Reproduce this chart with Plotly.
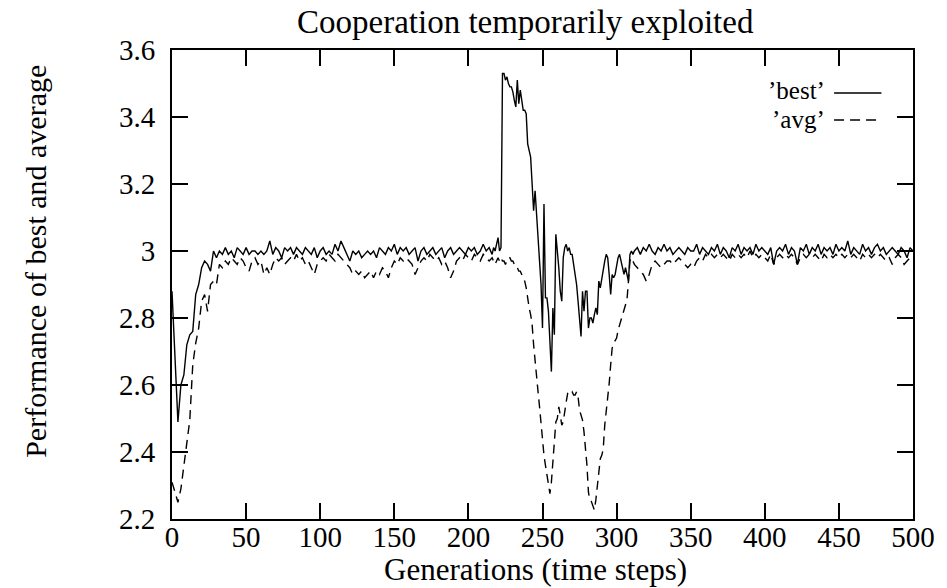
import plotly.graph_objects as go

# ---------------- data ----------------
gens_early = list(range(0, 216, 2))      # 0..214 step 2
gens_mid = list(range(216, 312))         # 216..311 step 1
gens_late = list(range(312, 501, 2))     # 312..500 step 2

best_early = [
    2.88, 2.70, 2.49, 2.60, 2.63, 2.72, 2.75, 2.76, 2.87, 2.90,
    2.95, 2.97, 2.96, 2.94, 3.00, 2.98, 3.00, 2.99, 3.01, 2.99,
    3.00, 2.98, 3.01, 3.00, 2.99, 3.01, 2.99, 3.00, 3.00, 2.99,
    3.00, 2.99, 3.00, 3.03, 2.99, 3.01, 3.00, 2.98, 3.01, 3.00,
    3.01, 2.99, 3.01, 3.00, 2.99, 3.01, 3.00, 2.99, 3.01, 2.98,
    3.00, 3.01, 2.99, 3.00, 2.99, 3.02, 3.00, 3.03, 3.01, 2.99,
    2.97, 3.00, 2.99, 3.00, 2.98, 2.99, 3.00, 2.99, 3.00, 2.98,
    3.01, 3.00, 2.99, 3.01, 3.00, 3.02, 2.99, 3.01, 3.00, 3.01,
    2.99, 3.00, 3.01, 2.97, 3.00, 3.01, 2.99, 3.00, 3.01, 2.99,
    3.00, 3.01, 2.98, 3.00, 3.01, 2.99, 3.00, 3.01, 3.00, 2.99,
    3.01, 3.00, 3.01, 2.99, 3.00, 3.02, 3.00, 3.01,
]
best_mid = [
    2.99, 3.01, 3.00, 3.02, 3.04, 3.00, 3.01, 3.53, 3.53, 3.51,
    3.52, 3.50, 3.49, 3.49, 3.475, 3.45, 3.43, 3.51, 3.44, 3.48,
    3.45, 3.42, 3.42, 3.41, 3.32, 3.30, 3.28, 3.20, 3.12, 3.18,
    3.11, 3.03, 2.98, 2.90, 2.77, 3.14, 2.86, 2.86, 2.82, 2.72,
    2.64, 2.83, 2.75, 3.05, 3.01, 2.95, 2.88, 2.85, 2.98, 3.01,
    3.02, 3.00, 3.01, 2.99, 2.99, 2.96, 2.94, 2.90, 2.85, 2.79,
    2.745, 2.88, 2.82, 2.88, 2.88, 2.77, 2.80, 2.80, 2.785, 2.81,
    2.83, 2.81, 2.91, 2.89, 2.92, 2.95, 2.97, 2.99, 2.98, 2.93,
    2.87, 2.93, 2.92, 2.93, 2.96, 2.98, 2.99, 2.97, 2.96, 2.93,
    2.95, 2.93, 2.91, 2.99, 3.00, 2.99,
]
best_late = [
    3.00, 3.01, 2.99, 3.01, 3.00, 3.02, 3.00, 2.99, 3.01, 3.00,
    3.02, 3.00, 3.01, 2.99, 3.00, 3.01, 3.00, 2.99, 3.01, 3.00,
    3.00, 3.02, 2.99, 3.01, 3.00, 2.99, 3.01, 3.00, 3.02, 2.99,
    3.01, 3.00, 2.98, 3.01, 3.00, 3.02, 2.99, 3.01, 3.00, 3.01,
    2.99, 3.02, 3.00, 3.01, 3.00, 2.99, 3.01, 2.96, 3.00, 3.01,
    3.00, 3.02, 2.99, 3.01, 3.00, 2.96, 3.01, 3.00, 3.02, 2.99,
    3.01, 3.00, 3.02, 2.99, 3.01, 3.00, 3.01, 2.99, 3.02, 3.00,
    3.01, 3.00, 3.03, 2.99, 3.01, 3.00, 2.99, 3.02, 3.00, 3.01,
    2.99, 3.01, 3.02, 3.00, 3.01, 2.99, 3.00, 3.01, 3.00, 2.99,
    3.01, 3.00, 2.98, 3.01, 3.00,
]

avg_early = [
    2.31, 2.28, 2.25, 2.29, 2.36, 2.44, 2.495, 2.66, 2.725, 2.77,
    2.85, 2.87, 2.82, 2.90, 2.91, 2.90, 2.96, 2.95, 2.97, 2.96,
    2.98, 2.97, 2.96, 2.98, 2.97, 2.95, 2.94, 2.97, 2.98, 2.96,
    2.97, 2.93, 2.95, 2.93, 2.96, 2.98, 2.97, 2.98, 2.96, 2.97,
    2.98, 2.97, 2.99, 2.97, 2.98, 2.96, 2.97, 2.95, 2.93, 2.96,
    2.97, 2.98, 2.97, 2.99, 2.98, 2.97, 2.99, 2.98, 2.97, 2.96,
    2.95, 2.93, 2.94, 2.93, 2.94, 2.92, 2.93, 2.94, 2.92, 2.94,
    2.93, 2.95, 2.94, 2.92, 2.95, 2.97, 2.96, 2.98, 2.97, 2.98,
    2.97, 2.96, 2.93, 2.95, 2.97, 2.98, 2.97, 2.99, 2.98, 2.97,
    2.98, 2.96, 2.97, 2.95, 2.92, 2.94, 2.97, 2.98, 2.97, 2.99,
    2.98, 2.97, 2.99, 2.98, 2.97, 2.99, 2.98, 2.97,
]
avg_mid = [
    2.98, 2.97, 2.96, 2.97, 2.98, 2.97, 2.98, 2.97, 2.97, 2.96,
    2.97, 2.98, 2.98, 2.97, 2.97, 2.96, 2.95, 2.95, 2.94, 2.94,
    2.93, 2.92, 2.91, 2.89, 2.85, 2.83, 2.81, 2.78, 2.72, 2.68,
    2.63, 2.58, 2.535, 2.48, 2.43, 2.39, 2.36, 2.33, 2.31, 2.276,
    2.31, 2.38, 2.44, 2.49, 2.50, 2.535, 2.51, 2.48, 2.49, 2.525,
    2.55, 2.575, 2.58, 2.575, 2.58, 2.57, 2.57, 2.58, 2.565, 2.525,
    2.51, 2.495, 2.46, 2.42, 2.36, 2.28, 2.255, 2.252, 2.24, 2.227,
    2.257, 2.30, 2.35, 2.38, 2.39, 2.41, 2.48, 2.52, 2.575, 2.605,
    2.66, 2.71, 2.725, 2.735, 2.74, 2.764, 2.78, 2.794, 2.81, 2.83,
    2.84, 2.854, 2.91, 2.97, 2.98, 2.97,
]
avg_late = [
    2.96, 2.95, 2.94, 2.93, 2.91, 2.93, 2.96, 2.97, 2.96, 2.95,
    2.96, 2.97, 2.97, 2.96, 2.97, 2.98, 2.97, 2.96, 2.95, 2.96,
    2.95, 2.97, 2.98, 2.97, 2.99, 2.98, 2.99, 2.98, 2.99, 2.98,
    2.99, 2.98, 2.97, 2.99, 2.98, 2.99, 2.98, 2.99, 2.98, 3.00,
    2.98, 2.99, 2.98, 2.99, 2.98, 2.97, 2.99, 2.96, 2.98, 2.99,
    2.98, 2.99, 2.98, 2.99, 2.98, 2.96, 2.98, 2.99, 2.98, 2.99,
    2.98, 2.99, 2.98, 2.97, 2.99, 2.98, 2.99, 2.98, 2.99, 2.98,
    2.99, 2.98, 2.99, 2.98, 2.99, 2.98, 2.97, 2.99, 2.98, 2.99,
    2.98, 2.99, 2.98, 2.99, 2.98, 2.97, 2.98, 2.96, 2.98, 2.99,
    2.98, 2.96, 2.97, 2.98, 2.99,
]

x_tick_vals = [0, 50, 100, 150, 200, 250, 300, 350, 400, 450, 500]
y_tick_vals = [2.2, 2.4, 2.6, 2.8, 3.0, 3.2, 3.4, 3.6]
y_tick_text = ["2.2", "2.4", "2.6", "2.8", "3", "3.2", "3.4", "3.6"]

title_text = "Cooperation temporarily exploited"
x_title = "Generations (time steps)"
y_title = "Performance of best and average"
legend_best = "\u2019best\u2019"
legend_avg = "\u2019avg\u2019"

# ---------------- figure ----------------
gens = gens_early + gens_mid + gens_late
best = best_early + best_mid + best_late
avg = avg_early + avg_mid + avg_late

FONT = "Liberation Serif"
W, H = 947, 588
L, R, T, B = 172, 24, 50, 69
PW, PH = W - L - R, H - T - B


def px(x):
    return (x - L) / PW


def py(y):
    return (H - B - y) / PH


fig = go.Figure()
fig.add_trace(go.Scatter(x=gens, y=best, mode="lines",
                         line=dict(color="black", width=1.4),
                         showlegend=False))
fig.add_trace(go.Scatter(x=gens, y=avg, mode="lines",
                         line=dict(color="black", width=1.4, dash="9px,6px"),
                         showlegend=False))

axis_common = dict(showline=True, linecolor="black", linewidth=2,
                   mirror="ticks", ticks="inside", ticklen=16,
                   tickwidth=2, tickcolor="black", showgrid=False,
                   zeroline=False,
                   tickfont=dict(family=FONT, size=29, color="black"))

fig.update_xaxes(range=[0, 500], tickvals=x_tick_vals,
                 ticklabelstandoff=-9, **axis_common)
fig.update_yaxes(range=[2.2, 3.6], tickvals=y_tick_vals,
                 ticktext=y_tick_text, ticklabelstandoff=9, **axis_common)

annos = [
    dict(text=title_text, x=px(530), y=py(22), xref="paper", yref="paper",
         showarrow=False, xanchor="center", yanchor="middle",
         font=dict(family=FONT, size=33, color="black")),
    dict(text=x_title, x=px(540), y=py(569), xref="paper", yref="paper",
         showarrow=False, xanchor="center", yanchor="middle",
         font=dict(family=FONT, size=31, color="black")),
    dict(text=y_title, x=px(33), y=py(261), xref="paper", yref="paper",
         showarrow=False, xanchor="center", yanchor="middle", textangle=-90,
         font=dict(family=FONT, size=30, color="black")),
    dict(text=legend_best, x=px(836), y=py(90), xref="paper", yref="paper",
         showarrow=False, xanchor="right", yanchor="middle",
         font=dict(family=FONT, size=25, color="black")),
    dict(text=legend_avg, x=px(836), y=py(119), xref="paper", yref="paper",
         showarrow=False, xanchor="right", yanchor="middle",
         font=dict(family=FONT, size=25, color="black")),
]

shapes = [
    dict(type="line", xref="paper", yref="paper",
         x0=px(843), x1=px(891), y0=py(93), y1=py(93),
         line=dict(color="black", width=1.3)),
    dict(type="line", xref="paper", yref="paper",
         x0=px(843), x1=px(891), y0=py(120), y1=py(120),
         line=dict(color="black", width=1.3, dash="10px,6px")),
]

fig.update_layout(width=W, height=H,
                  margin=dict(l=L, r=R, t=T, b=B, pad=0),
                  paper_bgcolor="white", plot_bgcolor="white",
                  annotations=annos, shapes=shapes, showlegend=False)

fig.write_html("out.html")
